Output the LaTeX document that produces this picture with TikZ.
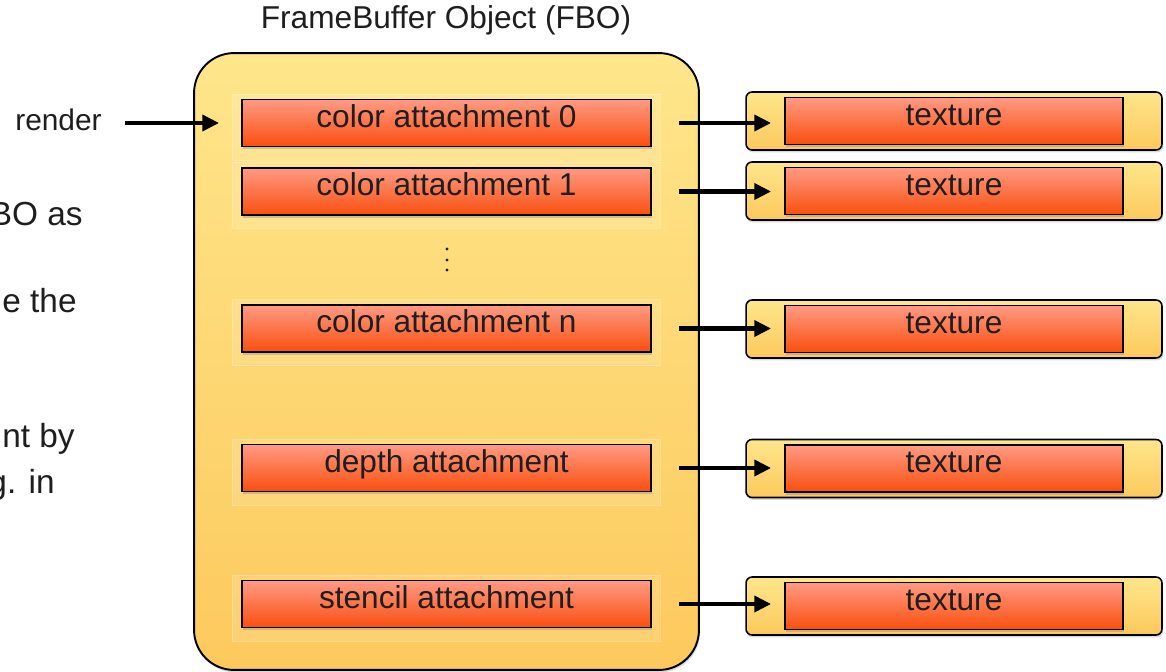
\documentclass[tikz,border=0pt]{standalone}
\usepackage{fontspec}
\setmainfont{Liberation Sans}
\usetikzlibrary{arrows.meta,shadows,shadings}

\definecolor{fboTop}{HTML}{FEE68B}
\definecolor{fboBot}{HTML}{FDC95D}
\definecolor{attTop}{HTML}{FF9A84}
\definecolor{attBot}{HTML}{F94F0E}
\definecolor{ink}{HTML}{1E1E1E}

\begin{document}
\begin{tikzpicture}[x=0.02cm,y=-0.02cm,
  fbobox/.style={draw=black, line width=1.1pt, rounded corners=0.8cm,
    top color=fboTop, bottom color=fboBot,
    drop shadow={shadow xshift=0.6pt, shadow yshift=-1.4pt, opacity=0.3},
    minimum width=10.1cm, minimum height=12.34cm, inner sep=0pt},
  attbox/.style={draw=black, line width=1.1pt,
    top color=attTop, bottom color=attBot,
    drop shadow={shadow xshift=0.8pt, shadow yshift=-1.6pt, opacity=0.35},
    minimum width=8.18cm, minimum height=0.94cm, inner sep=0pt,
    text height=0.75em, text depth=0.25em,
    text=ink, font=\fontsize{18}{21}\selectfont},
  texframe/.style={draw=black, line width=0.9pt, rounded corners=0.12cm,
    top color=fboTop, bottom color=fboBot,
    drop shadow={shadow xshift=0.6pt, shadow yshift=-1.4pt, opacity=0.3},
    minimum width=8.32cm, minimum height=1.16cm, inner sep=0pt},
  texbox/.style={attbox, minimum width=6.76cm},
  glow/.style={fill=white, fill opacity=0.12, draw=white, draw opacity=0.25, line width=0.4pt},
  sidetext/.style={anchor=base east, text=ink, inner sep=0pt, font=\fontsize{19}{22}\selectfont},
  feed/.style={line width=2.3pt, -{Triangle[length=9.5pt,width=9pt]}}
]
\useasboundingbox (0,0) rectangle (1166,672);
\clip (0,0) rectangle (1166,672);

% title
\node[text=ink, font=\fontsize{18}{21}\selectfont] (title) at (446,20) {FrameBuffer Object (FBO)};

% framebuffer object container
\node[fbobox] (fbo) at (446.5,361.5) {};

% faint panels behind the attachment slots
\foreach \yc in {123,191.5,328.5,468,604}
  \fill[glow] (232,\yc-29) rectangle (660,\yc+37);

% attachments
\node[attbox] (c0) at (446.5,123) {color attachment 0};
\node[attbox] (c1) at (446.5,191.5) {color attachment 1};
\node[attbox] (cn) at (446.5,328.5) {color attachment n};
\node[attbox] (dp) at (446.5,468) {depth attachment};
\node[attbox] (st) at (446.5,604) {stencil attachment};

% ellipsis between colour attachments
\foreach \yd in {249,260,270}
  \fill[ink] (447,\yd) circle (1.7);

% attached textures
\foreach \n/\yc in {0/121, 1/191, n/329, d/468.5, s/606}{
  \node[texframe] (f\n) at (954,\yc) {};
  \node[texbox] (t\n) at (954,\yc) {texture};
}

% side text
\node[sidetext, font=\fontsize{17}{20}\selectfont] (rend) at (102,131) {render};
\node[sidetext] (l1) at (83,226) {BO as};
\node[sidetext] (l2) at (77,312) {e the};
\node[sidetext] (l3) at (75,447) {nt by};
\node[sidetext] (l4) at (55,493) {g. in};

% connectors
\draw[feed, shorten <=23*0.02cm, shorten >=22*0.02cm] (rend.east |- c0.west) -- (c0.west);
\foreach \a/\t in {c0/t0, c1/t1, cn/tn, dp/td, st/ts}
  \draw[feed, shorten <=27*0.02cm, shorten >=13*0.02cm] (\a.east) -- (\a.east -| \t.west);
\end{tikzpicture}
\end{document}
